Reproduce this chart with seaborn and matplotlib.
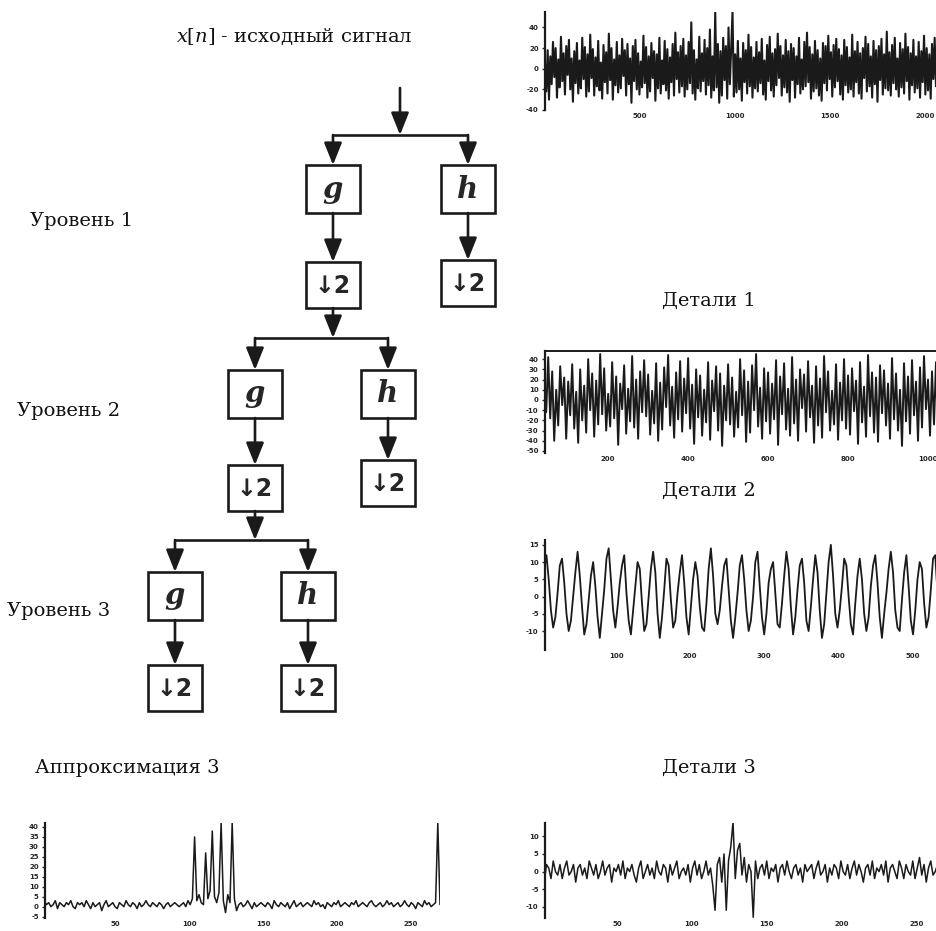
import numpy as np
import matplotlib.pyplot as plt
import seaborn as sns
from matplotlib.patches import Rectangle

# ---- signal samples (approximate) ----
src_step = 7
src_vals = [5, -22, 18, -30, 12, -15, 26, -8, 20, -28, 9, -18, 31, -12, 15, -25, 22, -6, 28, -20,
            10, -32, 17, -14, 25, -24, 8, -19, 30, -10, 21, -27, 14, -22, 33, -9, 19, -26, 11, -17,
            27, -21, 6, -29, 23, -13, 16, -24, 34, -11, 20, -30, 9, -16, 26, -23, 13, -19, 29, -7,
            18, -26, 24, -15, 10, -33, 22, -12, 28, -20, 15, -25, 7, -18, 32, -14, 21, -28, 12, -22,
            25, -9, 17, -31, 14, -19, 30, -24, 8, -15, 27, -21, 19, -29, 11, -13, 24, -26, 35, -10,
            16, -23, 22, -17, 29, -27, 13, -20, 26, -14, 45, -24, 18, -30, 9, -19, 31, -22, 15, -12,
            28, -25, 20, -16, 38, -28, 12, -21, 55, -18, 24, -33, 17, -26, 30, -11, 22, -29, 40, -15,
            19, 55, -27, 14, -23, 27, -20, 10, -31, 25, -13, 18, -24, 33, -17, 21, -28, 11, -19, 26,
            -22, 16, -14, 29, -25, 8, -30, 23, -12, 31, -21, 15, -27, 19, -16, 34, -9, 22, -26, 13,
            -18, 28, -23, 17, -32, 24, -11, 20, -28, 12, -15, 30, -24, 9, -20, 26, -17, 35, -13, 21,
            -29, 14, -22, 27, -19, 18, -26, 10, -31, 25, -14, 22, -21, 32, -10, 16, -27, 23, -18, 29,
            -12, 19, -25, 13, -30, 28, -16, 21, -23, 11, -20, 33, -27, 17, -13, 26, -24, 15, -29, 20,
            -9, 31, -22, 24, -17, 12, -28, 27, -15, 18, -32, 22, -11, 29, -25, 14, -19, 36, -21, 16,
            -26, 23, -14, 30, -20, 10, -27, 25, -18, 19, -24, 34, -12, 21, -30, 15, -16, 28, -23, 12,
            -19, 26, -28, 17, -13, 32, -25, 20, -21, 14, -29, 24, -10, 30, -17, 18, -26, 22, -15, 27]

det1_step = 5
det1_vals = [12, -30, 25, -8, 38, -22, 15, -35, 20, -12, 42, -18, 28, -40, 10, -25, 33, -5, 22, -38,
             18, -15, 35, -28, 8, -42, 30, -20, 14, -32, 40, -10, 26, -36, 19, -24, 45, -14, 31, -30,
             6, -26, 37, -18, 23, -44, 16, -9, 34, -33, 11, -21, 43, -27, 20, -38, 28, -12, 39, -16,
             25, -34, 9, -23, 36, -40, 17, -29, 32, -7, 44, -25, 13, -37, 27, -19, 38, -31, 21, -13,
             41, -28, 15, -43, 30, -17, 24, -35, 10, -22, 37, -39, 19, -11, 33, -30, 26, -45, 14, -20,
             35, -24, 22, -36, 8, -27, 40, -15, 29, -41, 18, -32, 34, -10, 45, -26, 12, -38, 31, -21,
             27, -33, 16, -19, 39, -44, 23, -14, 36, -29, 11, -35, 42, -23, 20, -40, 30, -8, 25, -31,
             38, -17, 14, -42, 33, -25, 21, -37, 43, -12, 28, -30, 9, -24, 35, -39, 17, -20, 40, -28,
             24, -34, 31, -11, 19, -43, 37, -22, 13, -36, 44, -16, 27, -32, 22, -41, 34, -13, 29, -25,
             16, -38, 41, -19, 26, -30, 10, -45, 36, -21, 23, -33, 39, -15, 18, -40, 32, -27, 43, -9,
             20, -35, 28, -24, 37, -42, 15, -18, 33, -31, 25, -37, 11, -26, 40, -14, 30, -39, 22, -20]

det2_step = 3
det2_vals = [2, 8, 12, 5, -4, -9, -6, 1, 9, 11, 4, -5, -10, -7, 0, 7, 13, 6, -3, -11,
             -8, -1, 6, 10, 3, -6, -12, -5, 2, 11, 14, 5, -4, -9, -3, 4, 9, 12, 1, -7,
             -11, -4, 3, 10, 8, -2, -10, -8, 0, 8, 13, 7, -5, -12, -6, 2, 11, 9, -1, -9,
             -7, 1, 7, 12, 4, -6, -11, -3, 5, 10, 6, -3, -9, -10, -2, 8, 14, 6, -5, -8,
             -4, 3, 9, 11, 2, -7, -12, -6, 1, 9, 12, 5, -4, -10, -7, 0, 10, 13, 3, -6,
             -11, -5, 4, 8, 10, 1, -8, -9, -2, 6, 13, 8, -3, -11, -6, 2, 9, 11, 4, -7,
             -10, -3, 5, 12, 7, -4, -12, -8, 1, 10, 15, 6, -5, -9, -4, 3, 11, 9, 0, -8,
             -11, -2, 6, 11, 5, -5, -10, -6, 3, 9, 12, 4, -6, -12, -5, 1, 8, 13, 7, -4,
             -9, -10, -1, 7, 12, 3, -7, -11, -4, 5, 10, 8, -2, -9, -6, 2, 11, 12, 1, -8]

apr3_step = 1.5
apr3_vals = [38, 3, 1, 2, 0, 1, 3, -1, 2, 1, 0, 2, 1, 3, 0, -1, 2, 1, 2, 0,
             3, 1, -1, 2, 0, 1, 2, -2, 1, 3, 0, 1, 2, 0, -1, 2, 1, 0, 3, 1,
             0, 2, 1, -1, 2, 0, 1, 3, 1, 0, 2, 1, 0, 2, 1, -1, 1, 2, 0, 1,
             2, 1, 0, 1, 2, 0, 3, 1, 4, 35, 3, 6, 2, 1, 27, 4, 8, 38, 5, 2,
             7, 42, 3, -3, 6, 2, 42, 4, -2, 1, 2, 0, 1, 3, 1, -1, 2, 0, 1, 2,
             1, 0, 2, 1, -1, 3, 1, 0, 2, 1, 0, 2, -1, 1, 3, 0, 1, 2, 0, 1,
             2, 1, 0, 3, 1, 2, 0, 1, -1, 2, 1, 0, 2, 1, 3, 0, 1, 2, 1, 0,
             2, 1, 3, 0, 1, 2, 1, 0, 2, 3, 1, 0, 1, 2, 0, 1, 3, 1, 2, 0,
             1, 2, 0, 1, 3, 1, 0, 2, 1, -1, 2, 1, 0, 3, 1, 2, 0, 1, 2, 42,
             1]

det3_step = 1.5
det3_vals = [0, -3, 2, 1, -2, 3, 0, -1, 2, -2, 1, 3, -1, 0, 2, -3, 1, 2, -1, 1,
             -2, 3, 1, -1, 2, -2, 0, 3, -1, 1, 2, -3, 1, 0, 2, -1, 3, -2, 1, 0,
             2, -1, -3, 1, 3, -2, 0, 2, -1, 1, -2, 3, 0, -1, 2, 1, -3, 2, -1, 1,
             3, -2, 0, 1, -1, 2, -3, 1, 3, -1, 2, -2, 0, 3, -1, 1, -4, -11, 2, 4,
             -3, 5, -11, 3, 7, 14, -2, 6, 8, -1, 4, -3, 2, 0, -13, 3, -2, 1, 2, -1,
             3, -2, 1, 0, 2, -3, 1, 2, -1, 3, 0, -2, 1, 2, -1, 1, -3, 2, 0, 1,
             2, -2, 1, 3, -1, 0, 2, -3, 1, -1, 2, 1, -2, 3, 0, -1, 2, -2, 1, 3,
             -1, 2, 0, -3, 1, 2, -1, 3, -2, 1, 0, 2, -1, 3, -3, 1, 2, 0, -2, 3,
             1, -2, 2, 0, -1, 3, -2, 1, 4, -1, 2, -3, 1, 3, -1, 0, 2, -2, 1, 2,
             0]

labels = ["Уровень 1", "Уровень 2", "Уровень 3", "Детали 1", "Детали 2",
          "Аппроксимация 3", "Детали 3"]

sns.set_theme(style="white")
plt.rcParams['font.family'] = ['DejaVu Serif', 'DejaVu Sans']
plt.rcParams['mathtext.fontset'] = 'dejavuserif'

W, H = 936, 931
fig = plt.figure(figsize=(W / 100, H / 100), dpi=100)


def px_axes(l, t, r, b):
    return fig.add_axes([l / W, 1 - b / H, (r - l) / W, (b - t) / H])


# ---- block diagram on an overlay in pixel units ----
dg = px_axes(0, 0, W, H)
dg.set_xlim(0, W)
dg.set_ylim(H, 0)
dg.axis("off")

LW = 1.9


def arrow(x, y0, y1):
    dg.annotate("", xy=(x, y1), xytext=(x, y0),
                arrowprops=dict(arrowstyle="-|>,head_length=0.9,head_width=0.36",
                                color="k", lw=LW, mutation_scale=15,
                                shrinkA=0, shrinkB=0))


def box(cx, top, txt, kind):
    w, h = 54, 48 if kind == "f" else 46
    dg.add_patch(Rectangle((cx - w / 2, top), w, h, fill=False, ec="k", lw=LW))
    if kind == "f":
        dg.text(cx, top + h / 2, txt, ha="center", va="center", fontsize=21,
                family="DejaVu Serif", style="italic", weight="bold")
    else:
        dg.text(cx, top + h / 2 + 1, txt, ha="center", va="center", fontsize=17,
                family="DejaVu Sans", weight="bold")
    return top + h


# (split x, line y, g x, h x, filter top, g down top, h down top)
levels = [(400, 135, 333, 468, 165, 262, 260),
          (333, 338, 255, 388, 370, 465, 460),
          (255, 540, 175, 308, 572, 665, 665)]

prev_bottom = 88
for sx, ly, gx, hx, ftop, gd, hd in levels:
    arrow(sx, prev_bottom, ly)
    dg.plot([gx, hx], [ly, ly], color="k", lw=LW, solid_capstyle="butt")
    for cx, dtop in ((gx, gd), (hx, hd)):
        arrow(cx, ly, ftop)
        fb = box(cx, ftop, "g" if cx == gx else "h", "f")
        arrow(cx, fb, dtop)
        db = box(cx, dtop, "↓2", "d")
        if cx == gx:
            prev_bottom = db

txt_kw = dict(fontsize=14, va="center", ha="left", color="#111111")
dg.text(176, 37, r"$x[n]$ - исходный сигнал", **txt_kw)
dg.text(30, 221, labels[0], **txt_kw)
dg.text(17, 411, labels[1], **txt_kw)
dg.text(7, 611, labels[2], **txt_kw)
dg.text(662, 301, labels[3], **txt_kw)
dg.text(662, 491, labels[4], **txt_kw)
dg.text(35, 768, labels[5], **txt_kw)
dg.text(662, 768, labels[6], **txt_kw)


# ---- signal panels ----
def panel(box_px, vals, step, xlim, ylim, xt, yt, top_spine=False, lw=1.0):
    ax = px_axes(*box_px)
    x = np.arange(len(vals)) * step
    sns.lineplot(x=x, y=vals, ax=ax, color="k", linewidth=lw,
                 estimator=None, sort=False)
    ax.set_xlim(*xlim)
    ax.set_ylim(*ylim)
    ax.set_xticks(xt)
    ax.set_yticks(yt)
    ax.set_xticklabels([str(v) for v in xt], fontsize=5, weight="bold",
                       family="DejaVu Sans")
    ax.set_yticklabels([str(v) for v in yt], fontsize=5, weight="bold",
                       family="DejaVu Sans")
    ax.tick_params(axis="x", length=0, pad=2)
    ax.tick_params(axis="y", length=2.5, width=1, pad=2, direction="out", left=True)
    ax.patch.set_alpha(0)
    for s in ("right", "bottom"):
        ax.spines[s].set_visible(False)
    ax.spines["top"].set_visible(top_spine)
    ax.spines["left"].set_linewidth(1.6)
    ax.spines["top"].set_linewidth(1.4)
    for s in ax.spines.values():
        s.set_color("k")
    ax.set_xlabel("")
    ax.set_ylabel("")
    return ax


panel((545, 12, 936, 110), src_vals, src_step, (0, 2058), (-40, 55),
      [500, 1000, 1500, 2000], [-40, -20, 0, 20, 40], lw=1.5)
panel((545, 351, 936, 453), det1_vals, det1_step, (42, 1020), (-52, 48),
      [200, 400, 600, 800, 1000], [-50, -40, -30, -20, -10, 0, 10, 20, 30, 40],
      top_spine=True, lw=1.4)
panel((545, 540, 936, 650), det2_vals, det2_step, (4, 532), (-15.5, 16.4),
      [100, 200, 300, 400, 500], [-10, -5, 0, 5, 10, 15], lw=1.3)
panel((45, 823, 440, 918), apr3_vals, apr3_step, (2, 270), (-5.7, 42),
      [50, 100, 150, 200, 250], [-5, 0, 5, 10, 15, 20, 25, 30, 35, 40], lw=1.1)
panel((545, 823, 936, 918), det3_vals, det3_step, (2, 263), (-13.2, 13.8),
      [50, 100, 150, 200, 250], [-10, -5, 0, 5, 10], lw=1.1)

fig.savefig("out.png", dpi=100)
